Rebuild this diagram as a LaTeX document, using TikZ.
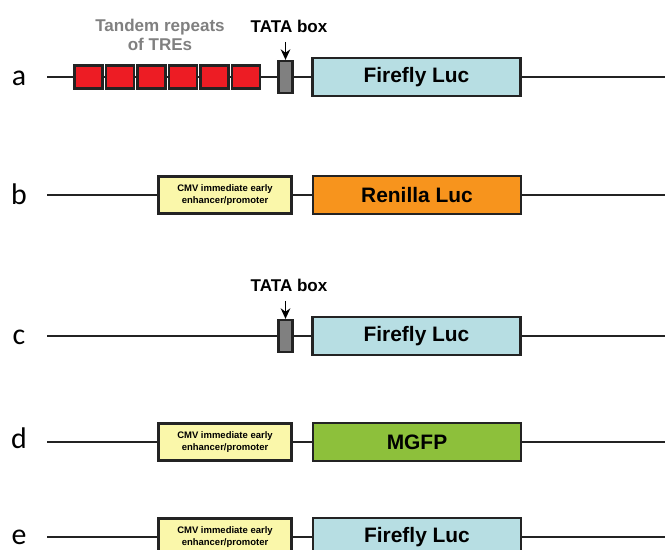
\documentclass[tikz,border=0pt]{standalone}
\usepackage{fontspec}
\setmainfont{Liberation Sans}
\newfontfamily\rowfont{Carlito}
\usetikzlibrary{arrows.meta}
\definecolor{treRed}{RGB}{237,28,36}
\definecolor{tataGray}{RGB}{128,128,128}
\definecolor{tandemGray}{RGB}{128,128,128}
\definecolor{lucBlue}{RGB}{183,222,227}
\definecolor{renOrange}{RGB}{247,148,29}
\definecolor{gfpGreen}{RGB}{141,192,59}
\definecolor{cmvYellow}{RGB}{250,247,170}
\definecolor{edge}{RGB}{35,35,35}

\begin{document}
\begin{tikzpicture}[x=0.02cm,y=-0.02cm,
  dna/.style={line width=.95pt,draw=edge},
  box/.style={draw=edge,line width=1.3pt,inner sep=0pt},
  tre/.style={box,fill=treRed,minimum width=.56cm,minimum height=.46cm},
  tata/.style={box,fill=tataGray,minimum width=.28cm,minimum height=.64cm},
  gene/.style={box,minimum width=4.16cm,minimum height=.76cm,font=\fontsize{11.9}{14}\selectfont\bfseries},
  cmv/.style={box,fill=cmvYellow,minimum width=2.66cm,minimum height=.74cm,align=center,font=\fontsize{5.4}{6.6}\selectfont\bfseries},
  rowlab/.style={inner sep=0pt,font=\rowfont\fontsize{17}{20}\selectfont},
  tag/.style={font=\fontsize{9.7}{10.8}\selectfont\bfseries}]
\useasboundingbox (0,0) rectangle (665,550);
\clip (0,0) rectangle (665,550);

\coordinate (aL) at (47,77);
\coordinate (aR) at (670,77);
\node[rowlab] (la) at (19,78) {a};
\foreach \i in {1,...,6} \node[tre] (tre\i) at ({57+31.5*\i},77) {};
\node[tata] (tataA) at (285.5,77) {};
\node[gene,fill=lucBlue] (lucA) at (416.5,77) {Firefly Luc};
\draw[dna] (aL) -- (tre1);
\foreach \i [evaluate=\i as \j using int(\i+1)] in {1,...,5} \draw[dna] (tre\i) -- (tre\j);
\draw[dna] (tre6) -- (tataA) -- (lucA) -- (aR);
\node[tag,text=tandemGray,align=center] (treLab) at (160,35) {Tandem repeats\\of TREs};
\node[tag] (tataLabA) at (289,26) {TATA box};
\draw[-{Stealth[length=6pt,width=5.5pt]},line width=1pt,shorten <=2pt] (tataA |- tataLabA.south) -- (tataA);

\coordinate (bL) at (47,195);
\coordinate (bR) at (670,195);
\node[rowlab] (lb) at (19,194) {b};
\node[cmv] (cmvB) at (225,195) {CMV immediate early\\enhancer/promoter};
\node[gene,fill=renOrange] (renB) at (417,195) {Renilla Luc};
\draw[dna] (bL) -- (cmvB) -- (renB) -- (bR);

\coordinate (cL) at (47,336);
\coordinate (cR) at (670,336);
\node[rowlab] (lc) at (19,337) {c};
\node[tata] (tataC) at (285.5,336) {};
\node[gene,fill=lucBlue] (lucC) at (416.5,336) {Firefly Luc};
\draw[dna] (cL) -- (tataC) -- (lucC) -- (cR);
\node[tag] (tataLabC) at (289,285) {TATA box};
\draw[-{Stealth[length=6pt,width=5.5pt]},line width=1pt,shorten <=2pt] (tataC |- tataLabC.south) -- (tataC);

\coordinate (dL) at (47,442);
\coordinate (dR) at (670,442);
\node[rowlab] (ld) at (19,438) {d};
\node[cmv] (cmvD) at (225,442) {CMV immediate early\\enhancer/promoter};
\node[gene,fill=gfpGreen] (gfpD) at (417,442) {MGFP};
\draw[dna] (dL) -- (cmvD) -- (gfpD) -- (dR);

\coordinate (eL) at (47,537);
\coordinate (eR) at (670,537);
\node[rowlab] (le) at (19,537) {e};
\node[cmv] (cmvE) at (225,537) {CMV immediate early\\enhancer/promoter};
\node[gene,fill=lucBlue] (lucE) at (417,537) {Firefly Luc};
\draw[dna] (eL) -- (cmvE) -- (lucE) -- (eR);
\end{tikzpicture}
\end{document}
